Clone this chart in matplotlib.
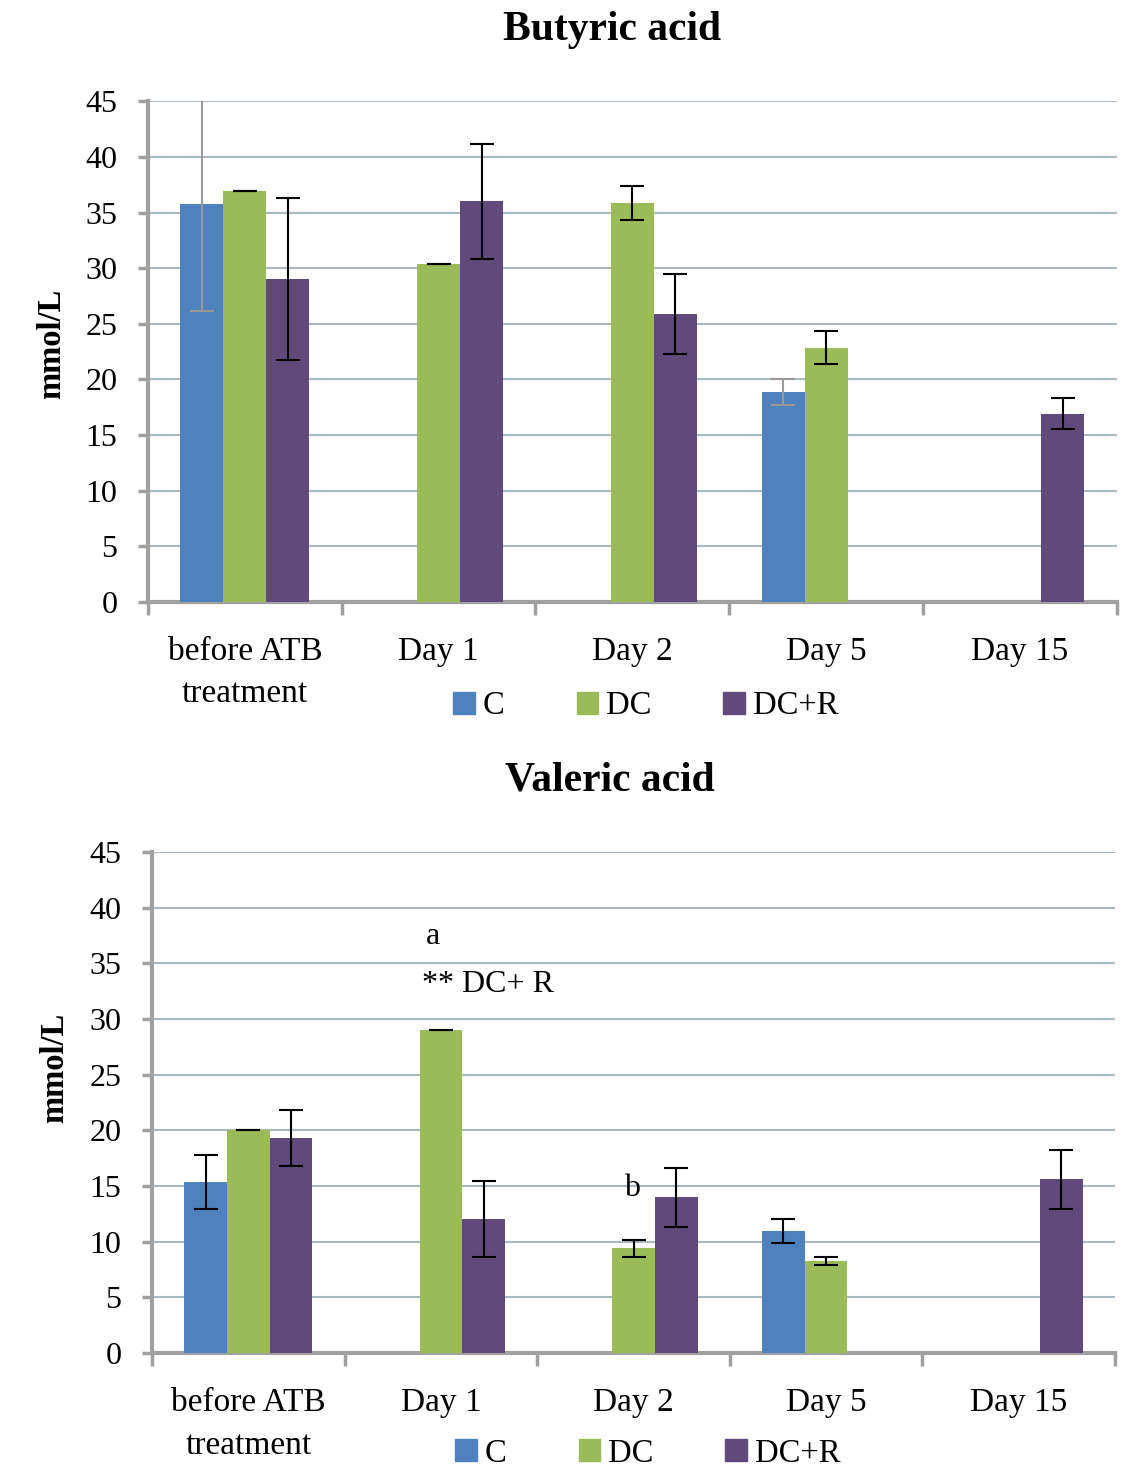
import numpy as np
import matplotlib
matplotlib.use("Agg")
import matplotlib.pyplot as plt
from matplotlib.patches import Patch

plt.rcParams['font.family'] = ['Liberation Serif', 'DejaVu Serif']

categories = ["before ATB\ntreatment", "Day 1", "Day 2", "Day 5", "Day 15"]
groups = ["C", "DC", "DC+R"]
colors = ["#4f81bd", "#9bbb59", "#604a7b"]

# Butyric acid (mmol/L), nan = no bar
butyric_c = [35.75, np.nan, np.nan, 18.85, np.nan]
butyric_c_err = [9.6, 0, 0, 1.15, 0]
butyric_dc = [36.95, 30.35, 35.85, 22.85, np.nan]
butyric_dc_err = [0.0, 0.0, 1.5, 1.5, 0]
butyric_dcr = [29.0, 36.0, 25.9, np.nan, 16.9]
butyric_dcr_err = [7.3, 5.2, 3.6, 0, 1.4]

# Valeric acid (mmol/L)
valeric_c = [15.35, np.nan, np.nan, 10.95, np.nan]
valeric_c_err = [2.45, 0, 0, 1.1, 0]
valeric_dc = [20.0, 29.0, 9.4, 8.25, np.nan]
valeric_dc_err = [0.0, 0.0, 0.75, 0.36, 0]
valeric_dcr = [19.3, 12.05, 14.0, np.nan, 15.6]
valeric_dcr_err = [2.5, 3.4, 2.65, 0, 2.65]

GRID = "#a9b9c4"
SPINE = "#a0a0a0"


def draw_panel(ax, title, series, errs, err_colors, title_x, ylab_xy, leg_xy):
    x = np.arange(len(categories))
    w = 0.222
    for i, (vals, err, col, ecol) in enumerate(zip(series, errs, colors, err_colors)):
        pos = x + (i - 1) * w
        vals = np.array(vals, dtype=float)
        ok = ~np.isnan(vals)
        ax.bar(pos[ok], vals[ok], width=w, color=col, zorder=3)
        ax.errorbar(pos[ok], vals[ok], yerr=np.array(err)[ok], fmt="none",
                    ecolor=ecol, elinewidth=1.5, capsize=8.5, capthick=1.5,
                    zorder=4)
    ax.set_xlim(-0.5, len(categories) - 0.5)
    ax.set_ylim(0, 45)
    ax.set_yticks(np.arange(0, 46, 5))
    ax.yaxis.grid(True, color=GRID, linewidth=1.5, zorder=0)
    ax.set_axisbelow(True)
    ax.set_xticks(x)
    ax.set_xticklabels(categories, fontsize=24, linespacing=1.5)
    ax.set_xticks(np.arange(-0.5, len(categories)), minor=True)
    ax.tick_params(axis="x", which="major", length=0, pad=25)
    ax.tick_params(axis="x", which="minor", length=9, width=2.5, color=SPINE)
    ax.tick_params(axis="y", length=7, width=2.5, color=SPINE, labelsize=23, pad=15)
    for s in ["top", "right"]:
        ax.spines[s].set_visible(False)
    for s in ["left", "bottom"]:
        ax.spines[s].set_color(SPINE)
        ax.spines[s].set_linewidth(3)
    ax.set_ylabel("mmol/L", fontsize=23.5, fontweight="bold")
    ax.yaxis.set_label_coords(*ylab_xy)
    ax.set_title(title, fontsize=30, fontweight="bold", x=title_x, pad=44)
    handles = [Patch(color=c, label=g) for c, g in zip(colors, groups)]
    ax.legend(handles=handles, loc="center", bbox_to_anchor=leg_xy,
              ncol=3, frameon=False, fontsize=23.5, handlelength=0.66,
              handleheight=0.66, handletextpad=0.25, columnspacing=2.2)


fig = plt.figure(figsize=(11.43, 14.68), dpi=100)
ax1 = fig.add_axes([0.1295, 0.590, 0.8475, 0.341])
ax2 = fig.add_axes([0.133, 0.0783, 0.8425, 0.3413])

draw_panel(ax1, "Butyric acid",
           [butyric_c, butyric_dc, butyric_dcr],
           [butyric_c_err, butyric_dc_err, butyric_dcr_err],
           ["#999999", "black", "black"],
           0.479, (-0.083, 0.515), (0.514, -0.208))
draw_panel(ax2, "Valeric acid",
           [valeric_c, valeric_dc, valeric_dcr],
           [valeric_c_err, valeric_dc_err, valeric_dcr_err],
           ["black", "black", "black"],
           0.475, (-0.085, 0.569), (0.515, -0.2))

ax2.text(0.96, 37.4, "a", fontsize=23, ha="center", va="center")
ax2.text(0.90, 33.1, "** DC+ R", fontsize=23, ha="left", va="center")
ax2.text(1.99, 14.8, "b", fontsize=23, ha="center", va="center")

fig.savefig("out.png", dpi=100)
